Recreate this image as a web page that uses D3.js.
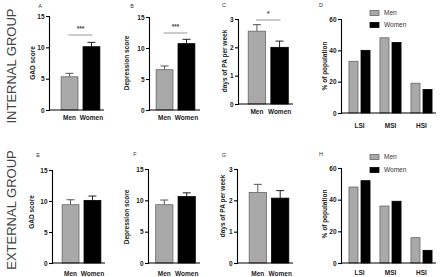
<!DOCTYPE html>
<html lang="en">
<head>
<meta charset="UTF-8">
<title>GAD / Depression / PA by sex</title>
<script src="https://d3js.org/d3.v7.min.js"></script>
<style>
  body { margin: 0; background: #fff; }
  text { font-family: "Liberation Sans", Arial, sans-serif; }
</style>
</head>
<body>
<svg width="440" height="277"></svg>
<script>
// data
var sexes = ["Men", "Women"];
var siCats = ["LSI", "MSI", "HSI"];

var intGad = [5.3, 10.1],  intGadErr = [0.55, 0.7];
var intDep = [6.5, 10.7],  intDepErr = [0.6, 0.7];
var intPa  = [2.57, 2.0],  intPaErr  = [0.23, 0.22];
var extGad = [9.4, 10.1],  extGadErr = [0.8, 0.7];
var extDep = [9.3, 10.6],  extDepErr = [0.75, 0.6];
var extPa  = [2.25, 2.07], extPaErr  = [0.26, 0.24];

var intSiMen = [33, 48, 19], intSiWomen = [40, 45, 15];
var extSiMen = [48, 36, 16], extSiWomen = [52, 39, 8];

var scoreTicks = [0, 5, 10, 15];
var paTicks = [0, 1, 2, 3];
var popTicks = [0, 20, 40, 60];

var rowLabels = ["INTERNAL GROUP", "EXTERNAL GROUP"];

var svg = d3.select("svg");
var menFill = "#a9a9a9", menStroke = "#666", womenFill = "#000";

function yAxis(g, y, ticks, x0) {
    var ax = g.append("g")
        .attr("transform", "translate(" + x0 + ",0)")
        .call(d3.axisLeft(y).tickValues(ticks).tickSize(3).tickPadding(1.5).tickFormat(d3.format("d")));
    ax.select(".domain").attr("stroke", "#000").attr("stroke-width", 1.1);
    ax.selectAll(".tick line").attr("stroke", "#000").attr("stroke-width", 1.1);
    ax.selectAll(".tick text").attr("font-size", 6.5).attr("font-weight", "bold").attr("fill", "#222");
}

function xLine(g, y0, x1, x2) {
    g.append("line").attr("x1", x1).attr("x2", x2).attr("y1", y0).attr("y2", y0)
        .attr("stroke", "#000").attr("stroke-width", 1.1);
}

function label(x, y, txt, opts) {
    opts = opts || {};
    var t = svg.append("text").attr("x", x).attr("y", y).text(txt)
        .attr("font-size", opts.size || 6.5)
        .attr("font-weight", opts.bold ? "bold" : "normal")
        .attr("fill", opts.fill || "#222")
        .attr("text-anchor", opts.anchor || "middle");
    if (opts.rotate) t.attr("transform", "rotate(-90," + x + "," + y + ")");
    return t;
}

// two-bar panel (means with SEM)
function sexPanel(p, vals, errs, ticks) {
    var g = svg.append("g");
    var y = d3.scaleLinear().domain([0, ticks[ticks.length - 1]]).range([p.y0, p.y1]);
    var x = d3.scaleBand().domain(sexes).range(p.band).paddingInner(0.23).paddingOuter(0.12);

    var data = sexes.map(function(s, i) { return {sex: s, v: vals[i], e: errs[i]}; });

    // error bars (drawn first so bar covers the lower half)
    data.forEach(function(d) {
        var cx = x(d.sex) + x.bandwidth() / 2;
        var col = d.sex === "Men" ? "#555" : "#222";
        g.append("line").attr("x1", cx).attr("x2", cx).attr("y1", y(d.v)).attr("y2", y(d.v + d.e))
            .attr("stroke", col).attr("stroke-width", 1);
        g.append("line").attr("x1", cx - 4).attr("x2", cx + 4).attr("y1", y(d.v + d.e)).attr("y2", y(d.v + d.e))
            .attr("stroke", col).attr("stroke-width", 1);
    });

    g.selectAll("rect.bar").data(data).enter().append("rect")
        .attr("class", "bar")
        .attr("x", function(d) { return x(d.sex); })
        .attr("width", x.bandwidth())
        .attr("y", function(d) { return y(d.v); })
        .attr("height", function(d) { return y(0) - y(d.v); })
        .attr("fill", function(d) { return d.sex === "Men" ? menFill : womenFill; })
        .attr("stroke", function(d) { return d.sex === "Men" ? menStroke : "#000"; })
        .attr("stroke-width", 0.8);

    yAxis(g, y, ticks, p.axisX);
    xLine(g, p.y0, p.axisX, p.axisEnd);

    sexes.forEach(function(s) {
        label(x(s) + x.bandwidth() / 2, p.y0 + p.labDy, s, {bold: true});
    });
    label(p.titleX, p.titleY, p.title, {bold: true, rotate: true});
    label(p.letterX, p.letterY, p.letter, {size: 5.5, fill: "#333"});

    if (p.sig) {
        var cx1 = x("Men") + x.bandwidth() / 2 - 1, cx2 = x("Women") + x.bandwidth() / 2 + 1;
        g.append("line").attr("x1", cx1).attr("x2", cx2).attr("y1", p.sigY).attr("y2", p.sigY)
            .attr("stroke", "#999").attr("stroke-width", 1);
        label((cx1 + cx2) / 2, p.sigY - 4, p.sig, {size: 6.5, bold: true, fill: "#444"});
    }
}

// grouped severity panel
function siPanel(p, men, women) {
    var g = svg.append("g");
    var y = d3.scaleLinear().domain([0, 60]).range([p.y0, p.y1]);
    var x0 = d3.scaleBand().domain(siCats).range(p.band).paddingInner(0.32).paddingOuter(0.16);
    var x1 = d3.scaleBand().domain(sexes).range([0, x0.bandwidth()]).paddingInner(0.25);

    var rows = siCats.map(function(c, i) { return {cat: c, vals: [men[i], women[i]]}; });
    var grp = g.selectAll("g.cat").data(rows).enter().append("g")
        .attr("transform", function(d) { return "translate(" + x0(d.cat) + ",0)"; });
    grp.selectAll("rect").data(function(d) {
            return sexes.map(function(s, i) { return {sex: s, v: d.vals[i]}; });
        }).enter().append("rect")
        .attr("x", function(d) { return x1(d.sex); })
        .attr("width", x1.bandwidth())
        .attr("y", function(d) { return y(d.v); })
        .attr("height", function(d) { return y(0) - y(d.v); })
        .attr("fill", function(d) { return d.sex === "Men" ? menFill : womenFill; })
        .attr("stroke", function(d) { return d.sex === "Men" ? menStroke : "#000"; })
        .attr("stroke-width", 0.8);

    yAxis(g, y, popTicks, p.axisX);
    xLine(g, p.y0, p.axisX, p.axisEnd);

    siCats.forEach(function(c) {
        label(x0(c) + x0.bandwidth() / 2, p.y0 + p.labDy, c, {bold: true});
    });
    label(p.titleX, p.titleY, "% of population", {bold: true, rotate: true});
    label(p.letterX, p.letterY, p.letter, {size: 5.5, fill: "#333", anchor: "start"});

    // legend
    sexes.forEach(function(s, i) {
        var ly = p.legY + i * p.legStep;
        g.append("rect").attr("x", 370).attr("y", ly - 2.5).attr("width", 9).attr("height", 5)
            .attr("fill", s === "Men" ? menFill : womenFill)
            .attr("stroke", s === "Men" ? menStroke : "#000").attr("stroke-width", 0.8);
        label(384, ly + 2.3, s, {anchor: "start", size: 6.5, fill: "#333"});
    });
}

// row 1
sexPanel({axisX: 49, axisEnd: 104, band: [58.5, 102.5], y0: 110, y1: 16, labDy: 10,
          title: "GAD score", titleX: 35, titleY: 63, letter: "A", letterX: 40, letterY: 8,
          sig: "***", sigY: 35}, intGad, intGadErr, scoreTicks);
sexPanel({axisX: 149, axisEnd: 200, band: [153.5, 197.5], y0: 110, y1: 17, labDy: 10,
          title: "Depression score", titleX: 129, titleY: 63, letter: "B", letterX: 132, letterY: 8,
          sig: "***", sigY: 33}, intDep, intDepErr, scoreTicks);
sexPanel({axisX: 238, axisEnd: 293, band: [245.5, 291], y0: 104, y1: 19, labDy: 10,
          title: "days of PA per week", titleX: 227, titleY: 61, letter: "C", letterX: 224, letterY: 7,
          sig: "*", sigY: 20}, intPa, intPaErr, paTicks);
siPanel({axisX: 341, axisEnd: 436, band: [344, 437], y0: 113, y1: 19, labDy: 15,
         titleX: 327, titleY: 66, letter: "D", letterX: 319, letterY: 7,
         legY: 13, legStep: 12}, intSiMen, intSiWomen);

// row 2
sexPanel({axisX: 52, axisEnd: 105, band: [59.5, 103.5], y0: 263, y1: 170, labDy: 12.5,
          title: "GAD score", titleX: 34, titleY: 212, letter: "E", letterX: 38, letterY: 157}, extGad, extGadErr, scoreTicks);
sexPanel({axisX: 148, axisEnd: 200, band: [153, 198], y0: 263, y1: 169, labDy: 12.5,
          title: "Depression score", titleX: 129, titleY: 217, letter: "F", letterX: 135, letterY: 156}, extDep, extDepErr, scoreTicks);
sexPanel({axisX: 237, axisEnd: 293, band: [246.5, 291.5], y0: 263, y1: 169, labDy: 12.5,
          title: "days of PA per week", titleX: 225, titleY: 206, letter: "G", letterX: 224, letterY: 157}, extPa, extPaErr, paTicks);
siPanel({axisX: 341, axisEnd: 436, band: [344, 437], y0: 263, y1: 168, labDy: 12,
         titleX: 327, titleY: 214, letter: "H", letterX: 319, letterY: 156,
         legY: 157, legStep: 13}, extSiMen, extSiWomen);

// row labels
label(16, 66, rowLabels[0], {size: 13, fill: "#444", rotate: true});
label(16, 210, rowLabels[1], {size: 13, fill: "#444", rotate: true});
</script>
</body>
</html>
